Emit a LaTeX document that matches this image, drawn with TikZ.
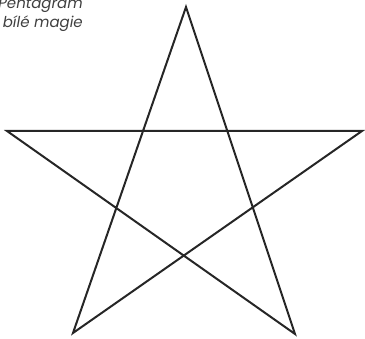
\documentclass[tikz,border=0pt]{standalone}
\usepackage{fontspec}
\setmainfont{Poppins}
\begin{document}
\begin{tikzpicture}[x=1pt,y=1pt,
  starline/.style={line width=2pt,draw=black!85,line join=miter},
  caption/.style={font=\fontsize{15}{18}\selectfont\itshape,text=black!75,inner sep=0pt}]
\clip (0,0) rectangle (365,339);
\useasboundingbox (0,0) rectangle (365,339);
\coordinate (T) at (186,332);
\coordinate (L) at (7,208);
\coordinate (R) at (362,208);
\coordinate (BL) at (73,6);
\coordinate (BR) at (295,5);
\draw[starline] (T) -- (BL) -- (R) -- (L) -- (BR) -- cycle;
\node[caption,anchor=base east] (c1) at (83,330) {Pentagram};
\node[caption,anchor=base east] (c2) at (83,311) {bílé magie};
\end{tikzpicture}
\end{document}
